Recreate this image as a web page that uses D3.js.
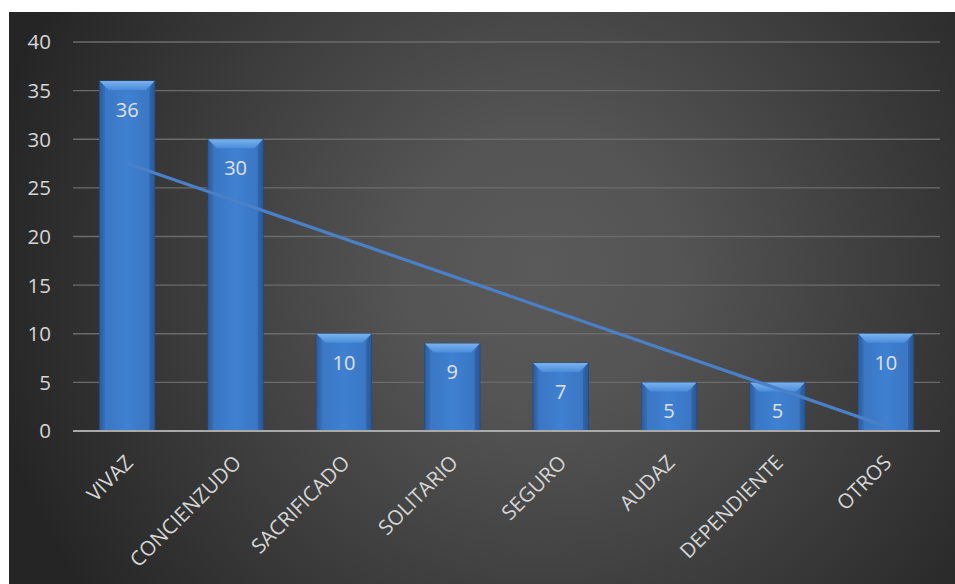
<!DOCTYPE html>
<html>
<head>
<meta charset="utf-8">
<script src="https://cdn.jsdelivr.net/npm/d3@7"></script>
<style>
  html, body { margin: 0; padding: 0; background: #ffffff; }
  svg { display: block; }
</style>
</head>
<body>
<svg id="chart" width="955" height="584"></svg>
<script>
// Personality traits and number of responses
const categories = ["VIVAZ", "CONCIENZUDO", "SACRIFICADO", "SOLITARIO", "SEGURO", "AUDAZ", "DEPENDIENTE", "OTROS"];
const values = [36, 30, 10, 9, 7, 5, 5, 10];
const yTicks = [0, 5, 10, 15, 20, 25, 30, 35, 40];

const W = 955, H = 584;
const panel = { x: 9, y: 12 };
const margin = { left: 73, right: 15, top: 42, bottom: 153 };
const font = "'Open Sans', 'Liberation Sans', sans-serif";

const svg = d3.select("#chart");
const defs = svg.append("defs");

// Dark radial background
const bg = defs.append("radialGradient").attr("id", "bgGrad")
  .attr("gradientUnits", "userSpaceOnUse")
  .attr("cx", 540).attr("cy", 270).attr("r", 560);
bg.append("stop").attr("offset", 0).attr("stop-color", "#5a5a5a");
bg.append("stop").attr("offset", 0.25).attr("stop-color", "#545454");
bg.append("stop").attr("offset", 1).attr("stop-color", "#252525");

svg.append("rect")
  .attr("x", panel.x).attr("y", panel.y)
  .attr("width", W - panel.x).attr("height", H - panel.y)
  .attr("fill", "url(#bgGrad)");

// Bar body gradient (darker edges, bright middle)
const barGrad = defs.append("linearGradient").attr("id", "barGrad")
  .attr("x1", 0).attr("x2", 1).attr("y1", 0).attr("y2", 0);
barGrad.append("stop").attr("offset", 0).attr("stop-color", "#27508a");
barGrad.append("stop").attr("offset", 0.1).attr("stop-color", "#3a77c4");
barGrad.append("stop").attr("offset", 0.5).attr("stop-color", "#3f80d1");
barGrad.append("stop").attr("offset", 0.9).attr("stop-color", "#3a77c4");
barGrad.append("stop").attr("offset", 1).attr("stop-color", "#27508a");

// Bevel top face gradient
const topGrad = defs.append("linearGradient").attr("id", "topGrad")
  .attr("x1", 0).attr("x2", 0).attr("y1", 0).attr("y2", 1);
topGrad.append("stop").attr("offset", 0).attr("stop-color", "#7ab2ef");
topGrad.append("stop").attr("offset", 1).attr("stop-color", "#4b8cda");

const x = d3.scaleBand()
  .domain(categories)
  .range([margin.left, W - margin.right])
  .paddingInner(0.49).paddingOuter(0.245);

const y = d3.scaleLinear()
  .domain([0, 40])
  .range([H - margin.bottom, margin.top]);

// Gridlines
svg.append("g")
  .selectAll("line")
  .data(yTicks.filter(d => d > 0))
  .join("line")
  .attr("x1", margin.left).attr("x2", W - margin.right)
  .attr("y1", d => y(d)).attr("y2", d => y(d))
  .attr("stroke", "#6b6b6b").attr("stroke-width", 1.3);

// Y axis tick labels
svg.append("g")
  .selectAll("text")
  .data(yTicks)
  .join("text")
  .attr("x", 51).attr("y", d => y(d))
  .attr("dy", "0.36em")
  .attr("text-anchor", "end")
  .attr("fill", "#d6d6d6")
  .attr("font-family", font)
  .attr("font-size", 20.5)
  .text(d => d);

// Bars with bevelled tops
const bars = svg.append("g").selectAll("g")
  .data(categories.map((c, i) => ({ c, v: values[i] })))
  .join("g");

bars.append("rect")
  .attr("x", d => x(d.c)).attr("y", d => y(d.v))
  .attr("width", x.bandwidth()).attr("height", d => y(0) - y(d.v))
  .attr("fill", "url(#barGrad)")
  .attr("stroke", "#23477a").attr("stroke-width", 0.8);

const bev = 9;
bars.append("polygon")
  .attr("points", d => {
    const x0 = x(d.c), x1 = x0 + x.bandwidth(), t = y(d.v);
    return [[x0, t], [x1, t], [x1 - bev, t + bev], [x0 + bev, t + bev]].join(" ");
  })
  .attr("fill", "url(#topGrad)");
bars.append("polygon")
  .attr("points", d => {
    const x0 = x(d.c), t = y(d.v), b = y(0);
    return [[x0, t], [x0 + bev * 0.6, t + bev], [x0 + bev * 0.6, b], [x0, b]].join(" ");
  })
  .attr("fill", "#3268b0").attr("opacity", 0.5);
bars.append("polygon")
  .attr("points", d => {
    const x1 = x(d.c) + x.bandwidth(), t = y(d.v), b = y(0);
    return [[x1, t], [x1 - bev * 0.6, t + bev], [x1 - bev * 0.6, b], [x1, b]].join(" ");
  })
  .attr("fill", "#2b5c9e").attr("opacity", 0.6);

// Value labels inside the bars
bars.append("text")
  .attr("x", d => x(d.c) + x.bandwidth() / 2)
  .attr("y", d => y(d.v) + 36)
  .attr("text-anchor", "middle")
  .attr("fill", "#e0e0e0")
  .attr("font-family", font)
  .attr("font-size", 20)
  .text(d => d.v);

// Baseline
svg.append("line")
  .attr("x1", margin.left).attr("x2", W - margin.right)
  .attr("y1", y(0)).attr("y2", y(0))
  .attr("stroke", "#a9a9a9").attr("stroke-width", 2.2);

// Linear trend line over the bar values
const n = values.length;
const xs = d3.range(1, n + 1);
const mx = d3.mean(xs), my = d3.mean(values);
const slope = d3.sum(xs, (xi, i) => (xi - mx) * (values[i] - my)) / d3.sum(xs, xi => (xi - mx) ** 2);
const icpt = my - slope * mx;
const trend = [1, n].map(k => ({ c: categories[k - 1], v: icpt + slope * k }));
svg.append("path")
  .datum(trend)
  .attr("d", d3.line().x(d => x(d.c) + x.bandwidth() / 2).y(d => y(d.v)))
  .attr("stroke", "#4a80c8").attr("stroke-width", 3.2)
  .attr("fill", "none").attr("stroke-linecap", "round");

// Rotated category labels
svg.append("g")
  .selectAll("text")
  .data(categories)
  .join("text")
  .attr("transform", d => `translate(${x(d) + x.bandwidth() / 2 + 7},${y(0) + 33}) rotate(-45)`)
  .attr("text-anchor", "end")
  .attr("fill", "#d6d6d6")
  .attr("font-family", font)
  .attr("font-size", 20.5)
  .text(d => d);
</script>
</body>
</html>
